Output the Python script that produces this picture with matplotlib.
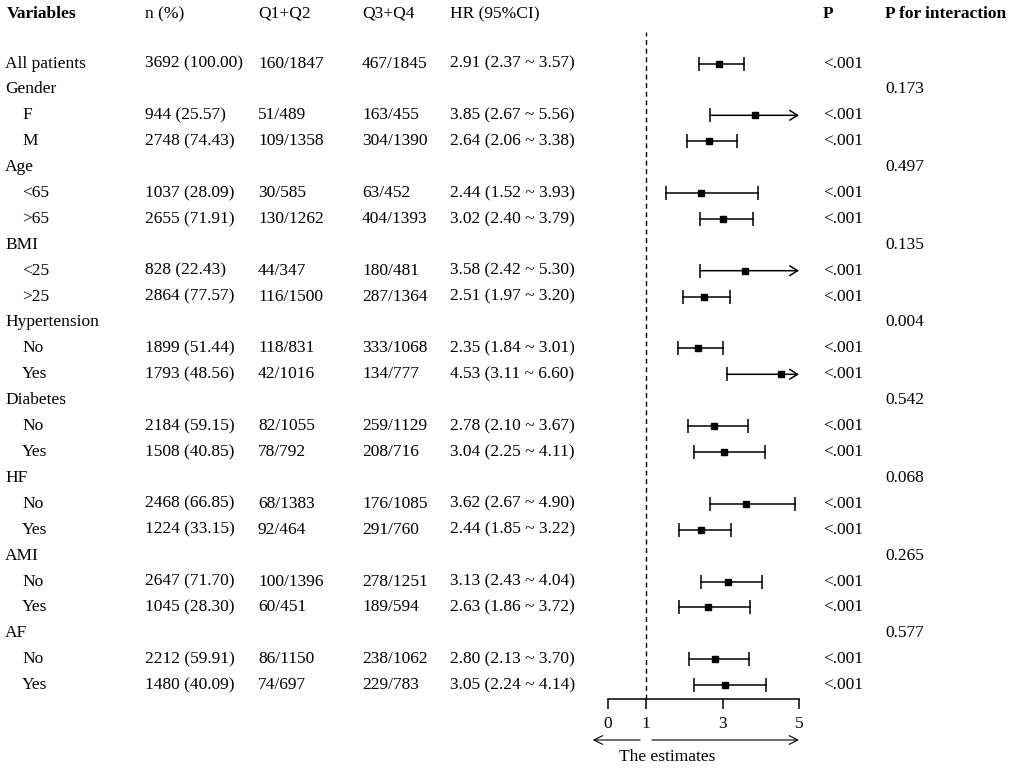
import matplotlib
matplotlib.use("Agg")
import matplotlib.pyplot as plt
import matplotlib.transforms as mtransforms

plt.rcParams['font.family'] = ['Liberation Serif', 'DejaVu Serif']
plt.rcParams['font.size'] = 12.5

# ---- data ----
labels = ["All patients", "Gender", "F", "M", "Age", "<65", ">65", "BMI", "<25", ">25",
          "Hypertension", "No", "Yes", "Diabetes", "No", "Yes", "HF", "No", "Yes",
          "AMI", "No", "Yes", "AF", "No", "Yes"]
is_sub = [False, False, True, True, False, True, True, False, True, True,
          False, True, True, False, True, True, False, True, True,
          False, True, True, False, True, True]
n_pct = ["3692 (100.00)", "", "944 (25.57)", "2748 (74.43)", "", "1037 (28.09)", "2655 (71.91)",
         "", "828 (22.43)", "2864 (77.57)", "", "1899 (51.44)", "1793 (48.56)",
         "", "2184 (59.15)", "1508 (40.85)", "", "2468 (66.85)", "1224 (33.15)",
         "", "2647 (71.70)", "1045 (28.30)", "", "2212 (59.91)", "1480 (40.09)"]
q12 = ["160/1847", "", "51/489", "109/1358", "", "30/585", "130/1262", "", "44/347", "116/1500",
       "", "118/831", "42/1016", "", "82/1055", "78/792", "", "68/1383", "92/464",
       "", "100/1396", "60/451", "", "86/1150", "74/697"]
q34 = ["467/1845", "", "163/455", "304/1390", "", "63/452", "404/1393", "", "180/481", "287/1364",
       "", "333/1068", "134/777", "", "259/1129", "208/716", "", "176/1085", "291/760",
       "", "278/1251", "189/594", "", "238/1062", "229/783"]
hr = [2.91, None, 3.85, 2.64, None, 2.44, 3.02, None, 3.58, 2.51, None, 2.35, 4.53,
      None, 2.78, 3.04, None, 3.62, 2.44, None, 3.13, 2.63, None, 2.80, 3.05]
lo = [2.37, None, 2.67, 2.06, None, 1.52, 2.40, None, 2.42, 1.97, None, 1.84, 3.11,
      None, 2.10, 2.25, None, 2.67, 1.85, None, 2.43, 1.86, None, 2.13, 2.24]
hi = [3.57, None, 5.56, 3.38, None, 3.93, 3.79, None, 5.30, 3.20, None, 3.01, 6.60,
      None, 3.67, 4.11, None, 4.90, 3.22, None, 4.04, 3.72, None, 3.70, 4.14]
p_val = ["<.001", "", "<.001", "<.001", "", "<.001", "<.001", "", "<.001", "<.001",
         "", "<.001", "<.001", "", "<.001", "<.001", "", "<.001", "<.001",
         "", "<.001", "<.001", "", "<.001", "<.001"]
p_int = ["", "0.173", "", "", "0.497", "", "", "0.135", "", "", "0.004", "", "",
         "0.542", "", "", "0.068", "", "", "0.265", "", "", "0.577", "", ""]

ticks = [0, 1, 3, 5]
xmax = 5

W, H = 1022, 768
fig = plt.figure(figsize=(W / 100, H / 100), dpi=100)

# forest panel: spans pixel x 608..799, y 32..699
top_px, bot_px = 32, 699
ax = fig.add_axes([608 / W, 1 - bot_px / H, (799 - 608) / W, (bot_px - top_px) / H])
row0, step = 63.5, 25.9
ax.set_xlim(0, xmax)
ax.set_ylim((bot_px - row0) / step, (top_px - row0) / step)
for s in ["top", "right", "left"]:
    ax.spines[s].set_visible(False)
ax.spines["bottom"].set_linewidth(1.1)
ax.set_yticks([])
ax.set_xticks(ticks)
ax.set_xticklabels([str(t) for t in ticks])
ax.tick_params(axis="x", direction="out", length=7.2, width=1.1, pad=5, labelsize=12.5)
ax.axvline(1, color="black", lw=1.0, ls=(0, (3.6, 2.6)))

lw = 1.1
cap = 9.5
for i in range(len(labels)):
    if hr[i] is None:
        continue
    ax.plot([lo[i]], [i], marker="|", ms=cap, mew=lw, color="black")
    if hi[i] > xmax:
        # upper limit beyond the axis: draw an arrow to the edge
        ax.annotate("", xy=(xmax, i), xytext=(lo[i], i),
                    arrowprops=dict(arrowstyle="->,head_length=0.45,head_width=0.28",
                                    lw=lw, color="black", shrinkA=0, shrinkB=0))
    else:
        ax.plot([lo[i], hi[i]], [i, i], color="black", lw=lw)
        ax.plot([hi[i]], [i], marker="|", ms=cap, mew=lw, color="black")
    ax.plot([hr[i]], [i], marker="s", ms=5, color="black")

# arrows under the axis
y_arr = (740 - row0) / step
ax.annotate("", xy=(-0.4, y_arr), xytext=(0.84, y_arr), annotation_clip=False,
            arrowprops=dict(arrowstyle="->,head_length=0.5,head_width=0.25",
                            lw=0.8, color="black", shrinkA=0, shrinkB=0))
ax.annotate("", xy=(xmax, y_arr), xytext=(1.15, y_arr), annotation_clip=False,
            arrowprops=dict(arrowstyle="->,head_length=0.5,head_width=0.25",
                            lw=0.8, color="black", shrinkA=0, shrinkB=0))
ax.text(0.3, (757 - row0) / step, "The estimates", ha="left", va="center", clip_on=False)

# table columns
tr = mtransforms.blended_transform_factory(fig.transFigure, ax.transData)
y_head = (14 - row0) / step
cols = [(7, "Variables", "bold"), (145, "n (%)", "normal"), (258, "Q1+Q2", "normal"),
        (362, "Q3+Q4", "normal"), (450, "HR (95%CI)", "normal"),
        (823, "P", "bold"), (885, "P for interaction", "bold")]
for x, txt, wt in cols:
    fig.text(x / W, y_head, txt, transform=tr, ha="left", va="center", fontweight=wt)

for i in range(len(labels)):
    x0 = 22 if is_sub[i] else 5
    fig.text(x0 / W, i, labels[i], transform=tr, ha="left", va="center")
    fig.text(145 / W, i, n_pct[i], transform=tr, ha="left", va="center")
    fig.text(258 / W, i, q12[i], transform=tr, ha="left", va="center")
    fig.text(362 / W, i, q34[i], transform=tr, ha="left", va="center")
    if hr[i] is not None:
        fig.text(450 / W, i, f"{hr[i]:.2f} ({lo[i]:.2f} ~ {hi[i]:.2f})",
                 transform=tr, ha="left", va="center")
    fig.text(823 / W, i, p_val[i], transform=tr, ha="left", va="center")
    fig.text(885 / W, i, p_int[i], transform=tr, ha="left", va="center")

fig.savefig("out.png", dpi=100)
